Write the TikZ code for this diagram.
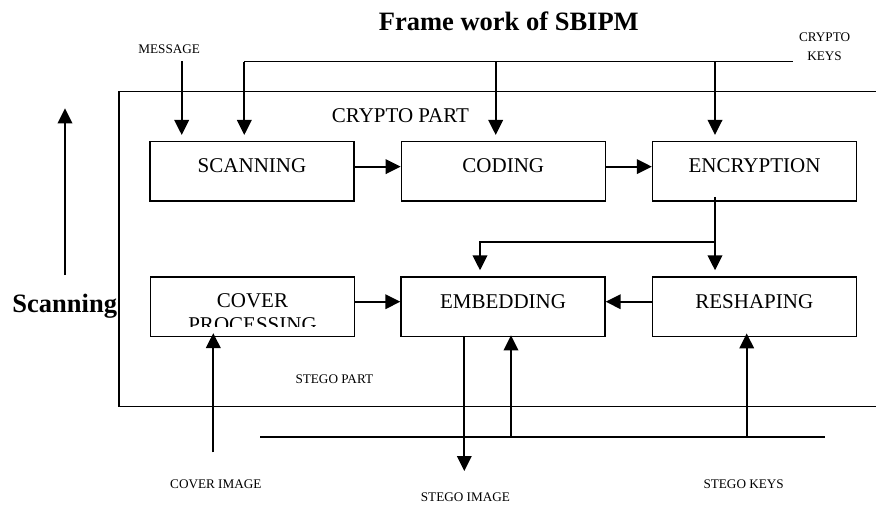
\documentclass[tikz,border=0pt]{standalone}
\usepackage{fontspec}
\setmainfont{Liberation Serif}
\usetikzlibrary{arrows.meta,calc}
\begin{document}
\begin{tikzpicture}[x=1pt,y=-1pt,
  box/.style={draw, line width=1.3pt, minimum width=204pt, minimum height=59.5pt, inner sep=0pt, font=\fontsize{21}{24}\selectfont},
  rowA/.style={text height=8pt, text depth=5.4pt},
  rowB/.style={text height=8pt, text depth=4.8pt},
  conn/.style={line width=2pt},
  arr/.style={conn, -{Triangle[length=15pt,width=14.5pt]}},
  frame/.style={line width=1.7pt},
  small/.style={font=\fontsize{13.2}{15}\selectfont, inner sep=0pt},
  mid/.style={font=\fontsize{21}{24}\selectfont, inner sep=0pt},
  big/.style={font=\fontsize{26.5}{30}\selectfont\bfseries, inner sep=0pt},
]
\useasboundingbox (0,0) rectangle (876,504);

% outer frame (open on the right)
\draw[frame] (876,91.5) -- (119,91.5) -- (119,406.5) -- (876,406.5);

% boxes
\node[box,rowA] (scan) at (252,171.35) {SCANNING};
\node[box,rowA] (code) at (503.3,171.35) {CODING};
\node[box,rowA] (enc)  at (754.5,171.35) {ENCRYPTION};
\node[box] (cover) at (252.2,306.7) {};
\node[box,rowB] (emb)  at (503,306.7) {EMBEDDING};
\node[box,rowB] (resh) at (754.3,306.7) {RESHAPING};

\begin{scope}
  \clip (150,277) rectangle (354,326);
  \node[mid, anchor=base] (coverT1) at (252.5,307.7) {COVER};
  \node[mid, anchor=base] (coverT2) at (252.5,331.7) {PROCESSING};
\end{scope}

% texts
\node[big, anchor=base] (title) at (508.8,30.7) {Frame work of SBIPM};
\node[small, anchor=base] (msgT) at (169.2,53.3) {MESSAGE};
\node[small, anchor=base] (ckT1) at (824.6,41.7) {CRYPTO};
\node[small, anchor=base] (ckT2) at (824.6,60) {KEYS};
\node[mid, anchor=base west] (cpT) at (331.7,122.3) {CRYPTO PART};
\node[big, anchor=base west] (scanT) at (12.3,312.7) {Scanning};
\begin{scope}
  \clip (280,360) rectangle (400,383.2);
  \node[small, anchor=base west] (spT) at (295.3,383.8) {STEGO PART};
\end{scope}
\begin{scope}
  \clip (150,470) rectangle (876,488.4);
  \node[small, anchor=base west] (ciT) at (170,488.8) {COVER IMAGE};
  \node[small, anchor=base west] (skT) at (703.3,488.8) {STEGO KEYS};
\end{scope}
\node[small, anchor=base west] (siT) at (420.7,501.8) {STEGO IMAGE};

% crypto keys line
\coordinate (ckL) at (244.3,61.5);
\coordinate (ckR) at (792.7,61.5);
\coordinate (ckC) at (495.7,61.5);
\coordinate (ckE) at (715,61.5);
\coordinate (msg) at (181.7,61);
\draw[frame] (ckL) -- (ckR);
\draw[arr, shorten >=6pt] (msg) -- (msg |- scan.north);
\draw[arr, shorten >=6pt] (ckL) -- (ckL |- scan.north);
\draw[arr, shorten >=6pt] (ckC) -- (ckC |- code.north);
\draw[arr, shorten >=6pt] (ckE) -- (ckE |- enc.north);

% row 1 flow
\draw[arr] ([yshift=4.7pt]scan.east) -- ([yshift=4.7pt]code.west);
\draw[arr] ([yshift=4.7pt]code.east) -- ([yshift=4.7pt]enc.west);

% encryption down and branch
\coordinate (encX) at (715,0);
\coordinate (br) at (715,241.7);
\coordinate (embX) at (480,0);
\draw[arr, shorten >=6pt] ([yshift=5pt]enc.south -| encX) -- (encX |- resh.north);
\draw[arr, shorten >=6pt] (br) -| (embX |- emb.north);

% row 2 flow
\draw[arr] ([yshift=5pt]cover.east) -- ([yshift=5pt]emb.west);
\draw[arr] ([yshift=5pt]resh.west) -- ([yshift=5pt]emb.east);

% bottom
\coordinate (ci) at (213.3,452.3);
\draw[arr] (ci) -- ([yshift=4pt]cover.south -| ci);
\coordinate (siTip) at (464.3,471);
\draw[arr] (emb.south -| siTip) -- (siTip);
\coordinate (skL) at (260,436.7);
\coordinate (skR) at (825,436.7);
\coordinate (skE) at (511,436.7);
\coordinate (skR2) at (746.7,436.7);
\draw[conn] (skL) -- (skR);
\draw[arr] (skE) -- ([yshift=1.7pt]emb.south -| skE);
\draw[arr] (skR2) -- ([yshift=3.7pt]resh.south -| skR2);

% left scanning arrow
\coordinate (saB) at (65,275);
\coordinate (saT) at (65,108.3);
\draw[arr] (saB) -- (saT);
\end{tikzpicture}
\end{document}
